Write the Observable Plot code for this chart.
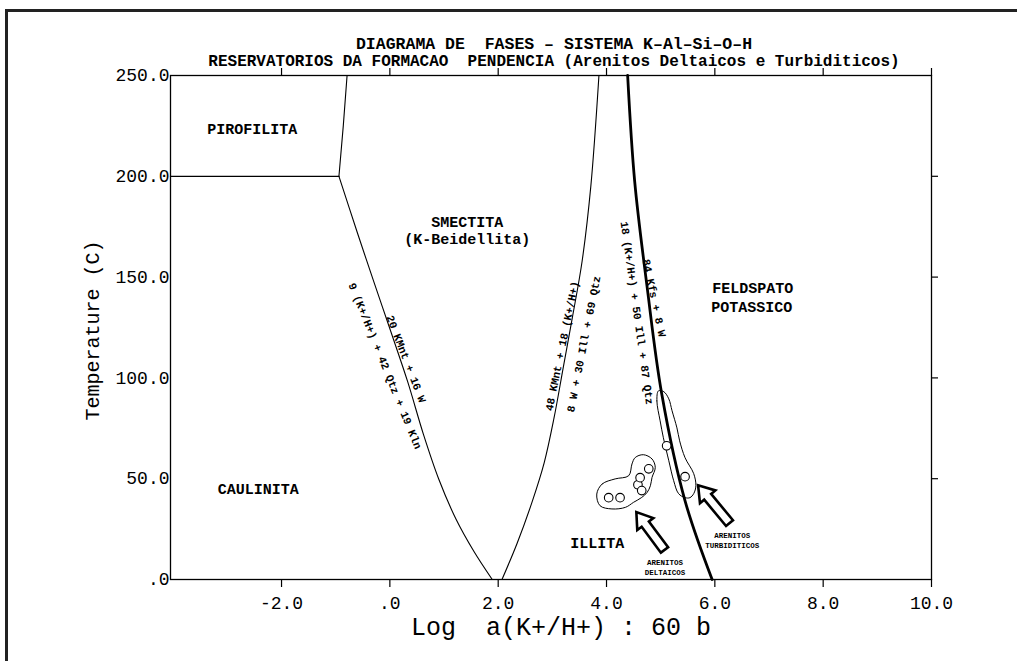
<!DOCTYPE html>
<html>
<head>
<meta charset="utf-8">
<script src="https://cdn.jsdelivr.net/npm/d3@7"></script>
<script src="https://cdn.jsdelivr.net/npm/@observablehq/plot@0.6"></script>
<style>
  html, body { margin: 0; padding: 0; background: #fff; }
  #wrap { position: relative; width: 1017px; height: 661px; overflow: hidden; }
  #wrap svg { position: absolute; left: 0; top: 0; }
  .bTop { position: absolute; left: 5px; top: 9px; width: 1012px; height: 3px; background: #222; }
  .bLeft { position: absolute; left: 5px; top: 9px; width: 3px; height: 652px; background: #222; }
</style>
</head>
<body>
<div id="wrap"><div class="bTop"></div><div class="bLeft"></div></div>
<script>
// ---------- data ----------
const xTicks = [-2, 0, 2, 4, 6, 8, 10];
const yTicks = [0, 50, 100, 150, 200, 250];

// phase boundaries (log a(K+/H+), T °C)
const pirofilitaBase = [{x: -4.05, y: 200}, {x: -0.94, y: 200}];
const pirofilitaSide = [{x: -0.94, y: 200}, {x: -0.86, y: 225}, {x: -0.79, y: 250}];
const caulSmect = [
  {x: -0.94, y: 200}, {x: -0.60, y: 172}, {x: -0.30, y: 148}, {x: 0.03, y: 122},
  {x: 0.33, y: 98}, {x: 0.62, y: 72}, {x: 0.90, y: 50}, {x: 1.22, y: 30},
  {x: 1.55, y: 14}, {x: 1.89, y: 0}
];
const smectIllite = [
  {x: 2.07, y: 0}, {x: 2.35, y: 18}, {x: 2.62, y: 38}, {x: 2.85, y: 58},
  {x: 3.03, y: 80}, {x: 3.20, y: 105}, {x: 3.37, y: 130}, {x: 3.55, y: 158},
  {x: 3.71, y: 195}, {x: 3.86, y: 250}
];
const illiteKfs = [
  {x: 4.39, y: 250}, {x: 4.52, y: 197.5}, {x: 4.75, y: 145}, {x: 5.02, y: 92},
  {x: 5.45, y: 39}, {x: 5.95, y: 0}
];

// samples
const samples = [
  {x: 4.04, y: 40.6}, {x: 4.25, y: 40.6}, {x: 4.58, y: 47.0}, {x: 4.65, y: 44.1},
  {x: 4.62, y: 50.5}, {x: 4.78, y: 54.9}, {x: 5.11, y: 66.3}, {x: 5.45, y: 51.0}
];

// sample envelopes
const deltaicEnvelope = [
  [3.82, 42.4], [3.92, 47.4], [4.16, 49.9], [4.41, 51.5], [4.47, 57.3], [4.53, 60.5],
  [4.68, 61.9], [4.84, 59.8], [4.90, 55.6], [4.84, 50.6], [4.81, 46.5], [4.75, 43.2],
  [4.65, 40.7], [4.50, 38.3], [4.35, 35.8], [4.10, 35.0], [3.88, 36.6]
];
const turbiditicEnvelope = [
  [4.96, 93.6], [4.93, 88.6], [4.99, 78.7], [5.05, 70.3], [5.15, 58.9], [5.24, 49.0],
  [5.33, 42.6], [5.45, 40.6], [5.54, 40.6], [5.61, 42.6], [5.65, 46.5], [5.61, 52.5],
  [5.45, 60.4], [5.35, 68.8], [5.30, 75.2], [5.21, 83.7], [5.15, 89.6], [5.06, 93.1]
];

// arrows pointing at the sample groups (tail -> head)
const arrows = [
  {x1: 5.08, y1: 14.4, x2: 4.56, y2: 33.2},
  {x1: 6.28, y1: 27.7, x2: 5.70, y2: 46.5}
];

// field labels
const fieldLabels = [
  {x: -2.54, y: 223.3, text: "PIROFILITA"},
  {x: 1.43, y: 177.2, text: "SMECTITA"},
  {x: 1.43, y: 168.8, text: "(K-Beidellita)"},
  {x: 6.70, y: 144.6, text: "FELDSPATO"},
  {x: 6.68, y: 135.1, text: "POTASSICO"},
  {x: -2.43, y: 45.0, text: "CAULINITA"},
  {x: 3.83, y: 17.8, text: "ILLITA"}
];
const smallLabels = [
  {x: 5.08, y: 8.6, text: "ARENITOS"},
  {x: 5.08, y: 3.2, text: "DELTAICOS"},
  {x: 6.32, y: 21.9, text: "ARENITOS"},
  {x: 6.32, y: 16.7, text: "TURBIDITICOS"}
];
// reaction labels along the boundaries
const reactionLabels = [
  {x: -0.09, y: 105.9, angle: 68, text: "9 (K+/H+) + 42 Qtz + 19 Kln"},
  {x: 0.30, y: 109.4, angle: 69, text: "20 KMnt + 16 W"},
  {x: 3.18, y: 115.8, angle: -78.5, text: "48 KMnt + 18 (K+/H+)"},
  {x: 3.58, y: 116.8, angle: -79, text: "8 W + 30 Ill + 69 Qtz"},
  {x: 4.56, y: 132.2, angle: 82, text: "18 (K+/H+) + 50 Ill + 87 Qtz"},
  {x: 4.88, y: 139.6, angle: 78, text: "84 Kfs + 8 W"}
];

const title1 = "DIAGRAMA DE  FASES \u2013 SISTEMA K\u2013Al\u2013Si\u2013O\u2013H";
const title2 = "RESERVATORIOS DA FORMACAO  PENDENCIA (Arenitos Deltaicos e Turbiditicos)";
const xLabel = "Log  a(K+/H+) : 60 b";
const yLabel = "Temperature (C)";

// ---------- chart ----------
const MONO = "'Liberation Mono', 'DejaVu Sans Mono', monospace";
const fmt = v => v === 0 ? ".0" : v.toFixed(1);

const env = [
  ...deltaicEnvelope.map(([x, y]) => ({x, y, g: "d"})),
  ...turbiditicEnvelope.map(([x, y]) => ({x, y, g: "t"}))
];

function arrowRender(index, scales, values, dimensions, context) {
  const g = d3.create("svg:g");
  for (const i of index) {
    const a = arrows[i];
    const tx = scales.x(a.x1), ty = scales.y(a.y1), hx = scales.x(a.x2), hy = scales.y(a.y2);
    const L = Math.hypot(hx - tx, hy - ty), ux = (hx - tx) / L, uy = (hy - ty) / L;
    const px = -uy, py = ux, sw = 4.5, hw = 10, hl = 15;
    const nx = hx - ux * hl, ny = hy - uy * hl;
    const pts = [
      [tx + px * sw, ty + py * sw], [nx + px * sw, ny + py * sw], [nx + px * hw, ny + py * hw],
      [hx, hy], [nx - px * hw, ny - py * hw], [nx - px * sw, ny - py * sw], [tx - px * sw, ty - py * sw]
    ];
    g.append("path").attr("d", "M" + pts.map(p => p.join(",")).join("L") + "Z")
      .attr("fill", "white").attr("stroke", "black").attr("stroke-width", 2.6)
      .attr("stroke-linejoin", "miter");
  }
  return g.node();
}

const chart = Plot.plot({
  width: 1017,
  height: 661,
  marginTop: 75,
  marginBottom: 82,
  marginLeft: 170,
  marginRight: 86,
  x: {type: "linear", domain: [-4.05, 10], axis: null},
  y: {type: "linear", domain: [0, 250], axis: null},
  style: {fontFamily: MONO, color: "black", background: "transparent"},
  marks: [
    Plot.frame({stroke: "black", strokeWidth: 1.3}),
    Plot.axisX(xTicks, {anchor: "bottom", tickFormat: fmt, tickSize: 8, tickPadding: 9, fontSize: 18, label: null, strokeWidth: 1.2}),
    Plot.axisX(xTicks, {anchor: "top", tickFormat: () => "", tickSize: 8, label: null, strokeWidth: 1.2}),
    Plot.axisY(yTicks, {anchor: "left", tickFormat: fmt, tickSize: 0, tickPadding: 1, fontSize: 18, label: null}),
    Plot.axisY(yTicks.slice(1, -1), {anchor: "right", tickFormat: () => "", tickSize: 6, label: null, strokeWidth: 1.2}),
    // boundaries
    Plot.line(pirofilitaBase, {x: "x", y: "y", stroke: "black", strokeWidth: 1.3}),
    Plot.line(pirofilitaSide, {x: "x", y: "y", stroke: "black", strokeWidth: 1.1}),
    Plot.line(caulSmect, {x: "x", y: "y", curve: "catmull-rom", stroke: "black", strokeWidth: 1.1}),
    Plot.line(smectIllite, {x: "x", y: "y", curve: "catmull-rom", stroke: "black", strokeWidth: 1.1}),
    Plot.line(illiteKfs, {x: "x", y: "y", curve: "catmull-rom", stroke: "black", strokeWidth: 2.8}),
    // envelopes
    Plot.line(env, {x: "x", y: "y", z: "g", curve: "catmull-rom-closed", stroke: "black", strokeWidth: 1}),
    // samples
    Plot.dot(samples, {x: "x", y: "y", r: 4.3, stroke: "black", fill: "white", strokeWidth: 1.1}),
    // arrows
    Plot.dot(arrows, {x: "x1", y: "y1", render: arrowRender}),
    // labels
    Plot.text(fieldLabels, {x: "x", y: "y", text: "text", fontSize: 15, fontWeight: "bold", fill: "black"}),
    Plot.text(smallLabels, {x: "x", y: "y", text: "text", fontSize: 7.5, fontWeight: "bold", fill: "black"}),
    Plot.text(reactionLabels, {x: "x", y: "y", text: "text", rotate: "angle", fontSize: 11, fontWeight: "bold", fill: "black"}),
    // titles
    Plot.text([title1], {frameAnchor: "top", dx: 3, dy: -38, fontSize: 16.5, fill: "black", fontWeight: "bold"}),
    Plot.text([title2], {frameAnchor: "top", dx: 3, dy: -21, fontSize: 16, fill: "black", fontWeight: "bold"}),
    Plot.text([xLabel], {frameAnchor: "bottom", dx: 10, dy: 55, fontSize: 25, fill: "black"}),
    Plot.text([yLabel], {frameAnchor: "left", textAnchor: "middle", rotate: -90, dx: -78, dy: 3, fontSize: 20, fill: "black"})
  ]
});
document.getElementById("wrap").appendChild(chart);
</script>
</body>
</html>
